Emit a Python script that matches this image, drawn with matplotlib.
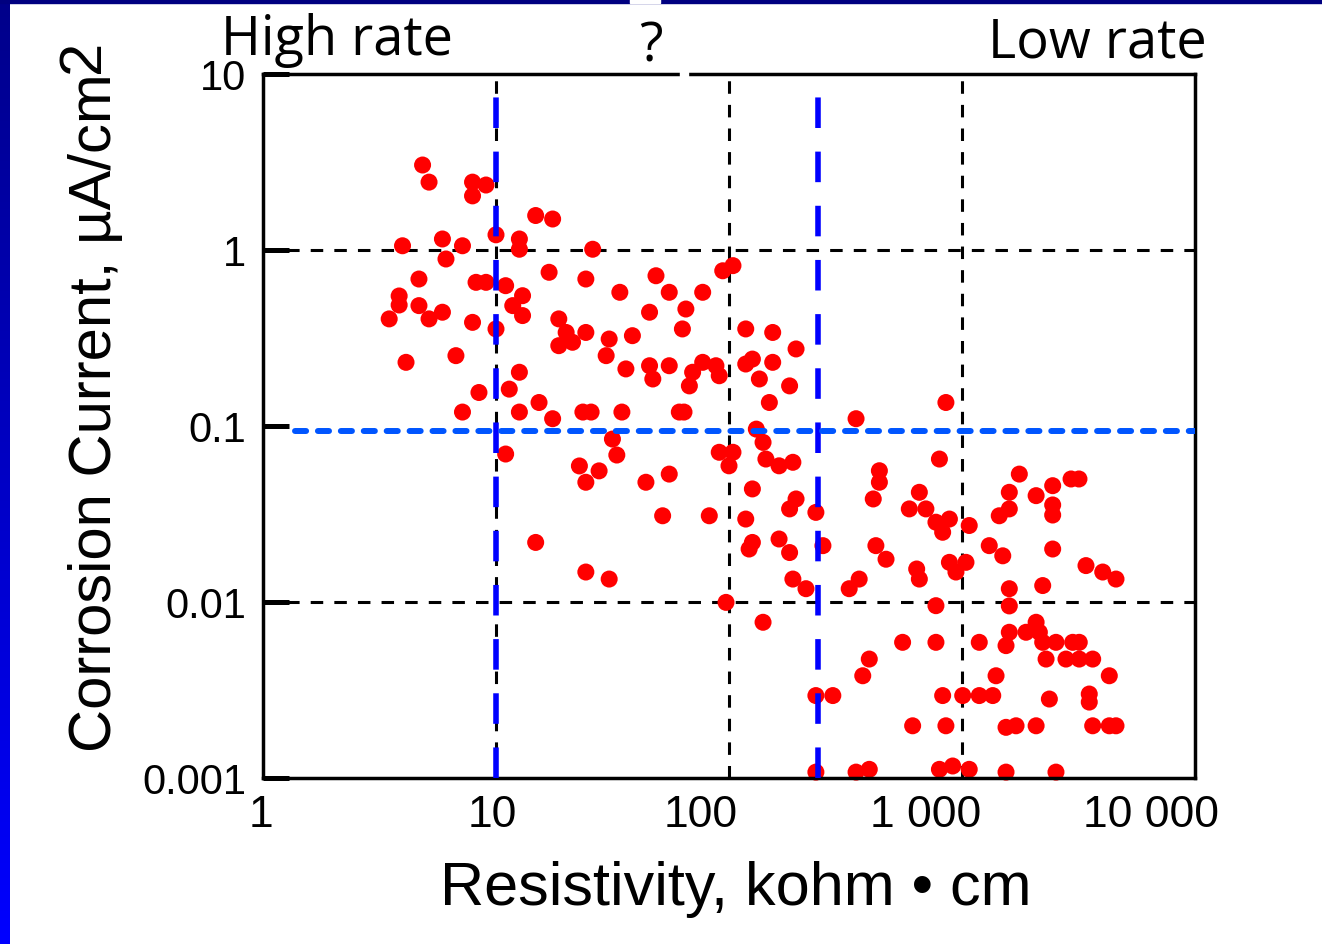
import matplotlib
matplotlib.use('Agg')
import matplotlib.pyplot as plt
import numpy as np
from matplotlib.patches import Rectangle
from matplotlib.colors import LinearSegmentedColormap

# Resistivity (kohm*cm) and corrosion current (uA/cm2)
resistivity = [
    4.84, 5.16, 7.93, 9.06, 7.93, 14.8, 17.5, 10.0, 12.6, 12.6,
    5.89, 3.97, 7.18, 6.10, 26.0, 16.9, 4.67, 24.3, 8.21, 9.06,
    11.0, 13.0, 11.8, 13.0, 3.84, 3.84, 4.67, 5.89, 5.16, 3.48,
    7.93, 10.0, 18.6, 20.0, 18.6, 21.3, 24.3, 30.6, 29.7, 34.0,
    4.11, 6.73, 12.6, 11.4, 8.45, 15.3, 7.18, 12.6, 17.5, 23.6,
    25.6, 34.7, 11.0, 31.6, 33.0, 22.8, 27.7, 24.3, 14.8, 24.3,
    30.6,
    48.6, 55.4, 77.1, 65.3, 45.6, 63.1, 38.5, 94.0, 104, 118,
    154, 194, 36.1, 45.6, 47.1, 55.4, 69.8, 77.1, 87.9, 90.8,
    67.6, 118, 126, 154, 135, 182, 149, 61.2, 64.1, 351,
    131, 140, 90.8, 104, 100, 144, 164, 188, 55.4, 44.0,
    51.9, 82.3, 126, 118, 126, 122, 164, 182, 194, 182,
    236, 253, 188, 214, 328, 362, 97.1, 140, 400, 375,
    236, 279, 236, 351, 400,
    853, 800, 442, 442, 416, 656, 594, 700, 773, 883,
    826, 1074, 1762, 1596, 1596, 1445, 2080, 2450, 2450, 2450,
    2938, 3177, 427, 472, 639, 656, 883, 1040, 942, 1309,
    1496, 2450, 3405, 4018, 4581, 1596, 2220, 773, 1596, 2080,
    1596, 1883, 2148, 2220, 1545, 2531, 2986, 3186, 2295, 2794,
    3186, 3638, 4287, 556, 773, 1186, 1400, 826, 1007, 1186,
    1355, 2371, 3517, 3517, 614, 853, 1545, 1706, 2080, 3638,
    4287, 4581, 800, 912, 1074, 1545, 2531,
]
current = [
    3.04, 2.43, 2.43, 2.34, 2.03, 1.57, 1.50, 1.22, 1.155, 1.01,
    1.155, 1.057, 1.057, 0.889, 1.01, 0.747, 0.684, 0.684, 0.655, 0.655,
    0.627, 0.550, 0.483, 0.424, 0.548, 0.487, 0.483, 0.443, 0.406, 0.406,
    0.388, 0.356, 0.406, 0.340, 0.286, 0.299, 0.340, 0.312, 0.251, 0.575,
    0.230, 0.251, 0.202, 0.162, 0.155, 0.136, 0.120, 0.120, 0.110, 0.120,
    0.120, 0.120, 0.0693, 0.0843, 0.0684, 0.0593, 0.0556, 0.0479, 0.0218, 0.0148,
    0.0135,
    0.714, 0.575, 0.575, 0.462, 0.443, 0.356, 0.326, 0.762, 0.815, 0.356,
    0.340, 0.274, 0.211, 0.220, 0.185, 0.220, 0.202, 0.230, 0.220, 0.193,
    0.169, 0.225, 0.240, 0.230, 0.185, 0.169, 0.136, 0.120, 0.120, 0.110,
    0.096, 0.0807, 0.0709, 0.0709, 0.0594, 0.0649, 0.0594, 0.0622, 0.0533, 0.0479,
    0.0309, 0.0309, 0.0439, 0.0296, 0.0218, 0.0200, 0.0228, 0.0191, 0.0385, 0.0338,
    0.0323, 0.0209, 0.0135, 0.0119, 0.0119, 0.0135, 0.00995, 0.00767, 0.00474, 0.00381,
    0.00294, 0.00294, 0.00108, 0.00108, 0.00112,
    0.136, 0.0649, 0.0557, 0.0479, 0.0385, 0.0420, 0.0338, 0.0338, 0.0284, 0.0296,
    0.0249, 0.0272, 0.0533, 0.0420, 0.0338, 0.0309, 0.0402, 0.0458, 0.0356, 0.0312,
    0.0500, 0.0500, 0.0209, 0.0175, 0.0154, 0.0135, 0.0168, 0.0168, 0.0148, 0.0209,
    0.0183, 0.0200, 0.0161, 0.0148, 0.0135, 0.0119, 0.0124, 0.00953, 0.0095, 0.00767,
    0.00673, 0.00673, 0.00673, 0.00590, 0.00565, 0.00590, 0.00590, 0.00590, 0.00474, 0.00474,
    0.00474, 0.00474, 0.00381, 0.00590, 0.00590, 0.00590, 0.00381, 0.00294, 0.00294, 0.00294,
    0.00294, 0.00281, 0.0030, 0.0027, 0.00198, 0.00198, 0.00194, 0.00198, 0.00198, 0.00198,
    0.00198, 0.00198, 0.00112, 0.00117, 0.00112, 0.00108, 0.00108,
]

grid_x = [10, 100, 1000]
grid_y = [1, 0.01]
boundary_x = [10, 240]
threshold_y = 0.094

ytick_vals = [0.001, 0.01, 0.1, 1, 10]
ytick_text = ['0.001', '0.01', '0.1', '1', '10']
xtick_vals = [1, 10, 100, 1000, 10000]
xtick_text = ['1', '10', '100', '1 000', '10 000']
xtick_shift = [-2, -4, -28, -36, -44]

plt.rcParams['font.family'] = ['Liberation Sans', 'DejaVu Sans']
plt.rcParams['lines.scale_dashes'] = False

W, H = 1322, 945
fig = plt.figure(figsize=(W / 100, H / 100), dpi=100)

def fx(px):
    return px / W

def fy(py):
    return 1 - py / H

ax = fig.add_axes([fx(263), fy(779), fx(1195) - fx(263), fy(75) - fy(779)])
ax.set_xscale('log')
ax.set_yscale('log')
ax.set_xlim(1, 10000)
ax.set_ylim(0.001, 10)

# black dashed grid
for gx in grid_x:
    ax.axvline(gx, color='black', lw=2.2, linestyle=(0, (9, 8)), zorder=1)
for gy in grid_y:
    ax.axhline(gy, color='black', lw=2.2, linestyle=(0, (9, 8)), zorder=1)

ax.scatter(resistivity, current, s=150, color='#ff0000', edgecolors='none',
           zorder=2, clip_on=False)

# blue boundaries
for bx in boundary_x:
    ax.axvline(bx, color='#0000ff', lw=4.0, linestyle=(0, (22, 17)), zorder=3)
ax.axhline(threshold_y, xmin=0.034, color='#0055ff', lw=4.3,
           linestyle=(0, (8, 8.5)), dash_capstyle='round', zorder=3)

for s in ax.spines.values():
    s.set_linewidth(2.5)

ax.set_yticks(ytick_vals)
ax.set_yticklabels(ytick_text)
ax.yaxis.set_minor_locator(matplotlib.ticker.NullLocator())
ax.xaxis.set_minor_locator(matplotlib.ticker.NullLocator())
ax.tick_params(axis='y', direction='in', length=19, width=3.6, labelsize=30, pad=12)
ax.set_xticks(xtick_vals)
ax.tick_params(axis='x', length=0, labelbottom=False)

for v, t, dx in zip(xtick_vals, xtick_text, xtick_shift):
    ax.annotate(t, xy=(v, 0), xycoords=('data', 'axes fraction'),
                xytext=(dx, -16), textcoords='offset pixels',
                ha='center', va='top', fontsize=32, annotation_clip=False)

fig.text(fx(736), fy(905), 'Resistivity, kohm \u2022 cm', ha='center',
         va='baseline', fontsize=44)
ylab = fig.text(fx(96), fy(752), 'Corrosion Current, \u00b5A/cm', rotation=90,
                ha='center', va='bottom', fontsize=43)
ax.annotate('2', xy=(0.5, 1), xycoords=ylab, xytext=(-12, 0),
            textcoords='offset pixels', rotation=90, ha='center', va='bottom',
            fontsize=43, annotation_clip=False)

top_font = ['Open Sans', 'DejaVu Sans']
fig.text(fx(337), fy(55), 'High rate', family=top_font, fontsize=39,
         ha='center', va='baseline')
fig.text(fx(651), fy(62), '?', family=top_font, fontsize=39,
         ha='center', va='baseline')
fig.text(fx(1097), fy(58), 'Low rate', family=top_font, fontsize=39,
         ha='center', va='baseline')

# slide border
fig.patches.append(Rectangle((0, fy(4)), 1, 4 / H, transform=fig.transFigure,
                             color='#000080', zorder=5))
fig.patches.append(Rectangle((fx(630), fy(4)), 30 / W, 4 / H,
                             transform=fig.transFigure, color='white', zorder=6))
fig.patches.append(Rectangle((fx(680), fy(80)), 8 / W, 8 / H,
                             transform=fig.transFigure, color='white', zorder=6))
bax = fig.add_axes([0, 0, fx(10), 1])
grad = LinearSegmentedColormap.from_list('edge', ['#00008a', '#0000ff'])
bax.imshow(np.linspace(0, 1, 256).reshape(-1, 1), cmap=grad, aspect='auto')
bax.axis('off')

fig.savefig('out.png', dpi=100)
